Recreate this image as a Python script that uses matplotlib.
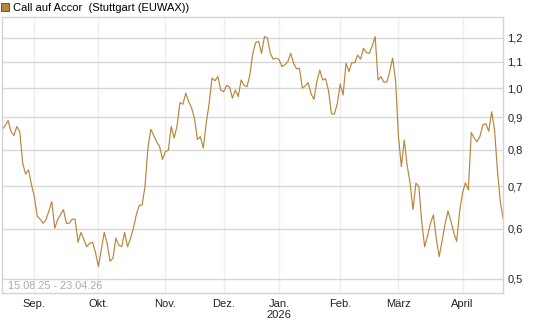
import matplotlib
matplotlib.use("Agg")
import matplotlib.pyplot as plt
import matplotlib.ticker as mticker
from matplotlib.patches import Patch
import pandas as pd
import numpy as np

plt.rcParams['font.family'] = ['Liberation Sans', 'DejaVu Sans']

# trading calendar (Börse Stuttgart), one price per session
first_session = "2025-08-15"
last_session = "2026-04-23"
closed_days = ["2025-12-24", "2025-12-25", "2025-12-26", "2025-12-31",
               "2026-01-01", "2026-04-03", "2026-04-06"]

prices = [
    0.861, 0.873, 0.889, 0.854, 0.842, 0.870, 0.854, 0.761, 0.732, 0.743,
    0.705, 0.674, 0.628, 0.621, 0.612, 0.620, 0.640, 0.662, 0.601, 0.620,
    0.632, 0.643, 0.612, 0.612, 0.621, 0.621, 0.571, 0.592, 0.577, 0.562,
    0.569, 0.571, 0.550, 0.523, 0.557, 0.592, 0.568, 0.533, 0.539, 0.580,
    0.565, 0.562, 0.592, 0.562, 0.579, 0.601, 0.631, 0.653, 0.654, 0.700,
    0.805, 0.861, 0.842, 0.823, 0.809, 0.772, 0.794, 0.798, 0.870, 0.834,
    0.872, 0.949, 0.943, 0.982, 0.952, 0.930, 0.895, 0.830, 0.838, 0.804,
    0.880, 0.945, 1.037, 1.027, 1.043, 0.993, 0.987, 1.010, 1.005, 0.964,
    0.993, 0.970, 1.030, 1.010, 1.005, 1.050, 1.135, 1.180, 1.185, 1.135,
    1.206, 1.200, 1.135, 1.111, 1.115, 1.110, 1.081, 1.089, 1.100, 1.135,
    1.095, 1.073, 1.075, 1.000, 1.008, 1.020, 0.980, 0.960, 1.025, 1.068,
    1.030, 1.035, 0.990, 0.911, 0.910, 0.945, 1.015, 0.975, 1.095, 1.062,
    1.097, 1.097, 1.128, 1.111, 1.156, 1.138, 1.135, 1.165, 1.206, 1.030,
    1.043, 1.022, 1.022, 1.062, 1.115, 1.030, 0.840, 0.752, 0.828, 0.755,
    0.708, 0.643, 0.708, 0.700, 0.615, 0.562, 0.585, 0.612, 0.631, 0.578,
    0.542, 0.575, 0.610, 0.640, 0.617, 0.591, 0.573, 0.639, 0.683, 0.709,
    0.691, 0.851, 0.834, 0.823, 0.840, 0.875, 0.879, 0.855, 0.918, 0.859,
    0.740, 0.660, 0.620,
]
y_ticks = [0.5, 0.6, 0.7, 0.8, 0.9, 1.0, 1.1, 1.2]
month_labels = ["Sep.", "Okt.", "Nov.", "Dez.", "Jan.\n2026", "Feb.", "März", "April"]
legend_label = "Call auf Accor  (Stuttgart (EUWAX))"
range_label = "15.08.25 - 23.04.26"

sessions = pd.bdate_range(first_session, last_session)
sessions = sessions[~sessions.isin(pd.to_datetime(closed_days))]
assert len(sessions) == len(prices)
idx = np.arange(len(sessions))

# first session of each month after the start
month_key = sessions.to_period("M")
first_of_month = [i for i in range(1, len(sessions)) if month_key[i] != month_key[i - 1]]

line_color = "#b8863b"

fig = plt.figure(figsize=(5.45, 3.27), dpi=100)
ax = fig.add_axes([0.0042, 0.104, 0.9193, 0.844])

ax.plot(idx, prices, color=line_color, lw=0.85)

ax.set_yscale("log")
ax.set_ylim(0.475, 1.295)
ax.set_xlim(idx[0], idx[-1])

ax.yaxis.set_major_locator(mticker.FixedLocator(y_ticks))
ax.yaxis.set_minor_locator(mticker.NullLocator())
ax.yaxis.set_major_formatter(mticker.FuncFormatter(lambda v, p: f"{v:.1f}".replace(".", ",")))
ax.yaxis.tick_right()

ax.set_xticks(first_of_month)
ax.set_xticklabels(month_labels)

ax.tick_params(axis="both", length=0, labelsize=8, colors="#222222")
ax.tick_params(axis="y", pad=3)
ax.tick_params(axis="x", pad=4)

ax.grid(axis="y", color="#d7d7d7", lw=1.0)
ax.grid(axis="x", color="#eeeeee", lw=1.0)
ax.set_axisbelow(True)
for s in ax.spines.values():
    s.set_color("#d3d3d3")
    s.set_linewidth(1.0)

ax.text(0.012, 0.008, range_label, transform=ax.transAxes, fontsize=7.8,
        color="#a3abbb", ha="left", va="bottom")

fig.legend(handles=[Patch(facecolor=line_color, edgecolor="#5a4020", lw=0.6)],
           labels=[legend_label], loc="upper left", bbox_to_anchor=(-0.004, 1.0),
           frameon=False, fontsize=8, handlelength=0.75, handleheight=0.75,
           handletextpad=0.4, borderaxespad=0.0, borderpad=0.25)

fig.savefig("out.png", dpi=100, facecolor="white")
